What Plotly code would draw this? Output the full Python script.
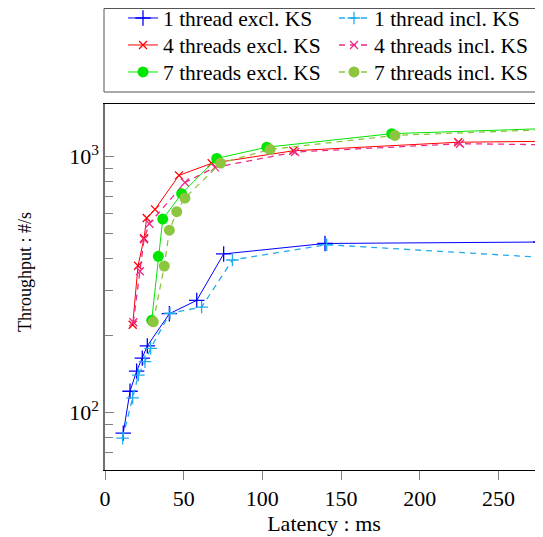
import plotly.graph_objects as go
import math

# ---- data (latency ms, throughput #/s) ----
t1_excl_x = [11.6, 15.9, 20.1, 23.7, 26.9, 40.9, 58.3, 75.4, 139.8, 276.9]
t1_excl_y = [83, 121, 145, 163, 182, 243, 274, 416, 457, 463]
t1_incl_x = [11.2, 17.6, 21.2, 25.4, 29.0, 41.3, 61.4, 81.0, 140.9, 285]
t1_incl_y = [79.4, 114, 140, 158, 178, 244, 258, 394, 452, 401]
t4_excl_x = [17.6, 21.0, 24.8, 26.5, 31.8, 47.0, 67.8, 119.7, 224.5, 290]
t4_excl_y = [220, 374, 479, 575, 621, 843, 940, 1052, 1136, 1147]
t4_incl_x = [18.0, 22.2, 24.8, 28.2, 50.8, 69.9, 120.8, 225.6, 290]
t4_incl_y = [225, 356, 475, 546, 791, 906, 1040, 1121, 1109]
t7_excl_x = [29.7, 33.9, 36.7, 48.7, 71.0, 102.8, 182.2, 290]
t7_excl_y = [229, 407, 569, 715, 982, 1086, 1227, 1290]
t7_incl_x = [30.7, 37.7, 40.9, 45.6, 50.8, 73.4, 104.9, 184.3, 290]
t7_incl_y = [226, 373, 515, 608, 688, 942, 1065, 1208, 1279]

names = ["1 thread excl. KS", "1 thread incl. KS",
         "4 threads excl. KS", "4 threads incl. KS",
         "7 threads excl. KS", "7 threads incl. KS"]

x_ticks = [0, 50, 100, 150, 200, 250]
y_major = [100, 1000]
y_major_text = ["10<sup>2</sup>", "10<sup>3</sup>"]
y_minor = [70, 80, 90, 200, 300, 400, 500, 600, 700, 800, 900]

FONT = "Liberation Serif"
OFF = 8  # default page body margin
W, H = 543 - OFF, 537 - OFF
# plot area in window pixels: x 105..543, y 104..470
ML, MR, MT, MB = 105 - OFF, 0, 104 - OFF, 537 - 470
PW, PH = W - ML - MR, H - MT - MB


def px_to_paper_x(px):  # window px
    return (px - OFF - ML) / PW


def px_to_paper_y(py):  # window px
    return (H - MB - (py - OFF)) / PH


fig = go.Figure()


def add(x, y, name, color, dash, symbol, size, legend, lw=1.0, filled=False):
    if filled:
        marker = dict(symbol=symbol, size=size, color=color, line=dict(width=0))
    else:
        marker = dict(symbol=symbol, size=size, color=color,
                      line=dict(color=color, width=1.3))
    fig.add_trace(go.Scatter(x=x, y=y, name=name, mode="lines+markers",
                             line=dict(color=color, width=lw, dash=dash),
                             marker=marker, legend=legend))


add(t1_excl_x, t1_excl_y, names[0], "#0000ff", "solid", "cross-thin", 11, "legend")
add(t1_incl_x, t1_incl_y, names[1], "#22aaee", "6px,5px", "cross-thin", 9, "legend", lw=1.3)
add(t4_excl_x, t4_excl_y, names[2], "#ff0000", "solid", "x-thin", 8, "legend2")
add(t4_incl_x, t4_incl_y, names[3], "#ec2a8c", "6px,5px", "x-thin", 8, "legend2", lw=1.3)
add(t7_excl_x, t7_excl_y, names[4], "#00e600", "solid", "circle", 11, "legend3", filled=True)
add(t7_incl_x, t7_incl_y, names[5], "#8cc63f", "6px,5px", "circle", 11, "legend3", lw=1.3, filled=True)


def leg(row_py):
    return dict(orientation="h", x=px_to_paper_x(123), xanchor="left",
                y=px_to_paper_y(row_py), yanchor="middle",
                entrywidth=166, borderwidth=0,
                bgcolor="rgba(0,0,0,0)", font=dict(family=FONT, size=21.5))


fig.update_layout(
    width=W, height=H,
    margin=dict(l=ML, r=MR, t=MT, b=MB, autoexpand=False),
    paper_bgcolor="white", plot_bgcolor="white",
    font=dict(family=FONT, size=22, color="black"),
    legend=leg(18), legend2=leg(45), legend3=leg(72),
    xaxis=dict(range=[0, 278.36], tickvals=x_ticks, ticks="outside", ticklen=9,
               tickcolor="#808080", showline=True, linecolor="black", linewidth=1,
               mirror=True, showgrid=False, zeroline=False,
               tickfont=dict(family=FONT, size=22),
               title=dict(text="Latency : ms", font=dict(family=FONT, size=22), standoff=0)),
    yaxis=dict(type="log", range=[math.log10(59.6), math.log10(1602)],
               tickvals=y_major, ticktext=y_major_text, ticks="inside", ticklen=9,
               tickcolor="#808080", showline=True, linecolor="#707070", linewidth=1.5,
               mirror=False, showgrid=False, zeroline=False,
               minor=dict(tickvals=y_minor, ticks="inside", ticklen=8,
                          tickcolor="#808080", showgrid=False),
               tickfont=dict(family=FONT, size=22)),
    annotations=[dict(text="Throughput : #/s", textangle=-90, xref="paper", yref="paper",
                      x=px_to_paper_x(25), y=px_to_paper_y(272), showarrow=False,
                      xanchor="center", yanchor="middle",
                      font=dict(family=FONT, size=18))],
    shapes=[dict(type="rect", xref="paper", yref="paper",
                 x0=px_to_paper_x(104), x1=px_to_paper_x(542.5),
                 y0=px_to_paper_y(92), y1=px_to_paper_y(8.5),
                 line=dict(color="#555555", width=1), fillcolor="rgba(0,0,0,0)")],
)

fig.write_html("out.html")
